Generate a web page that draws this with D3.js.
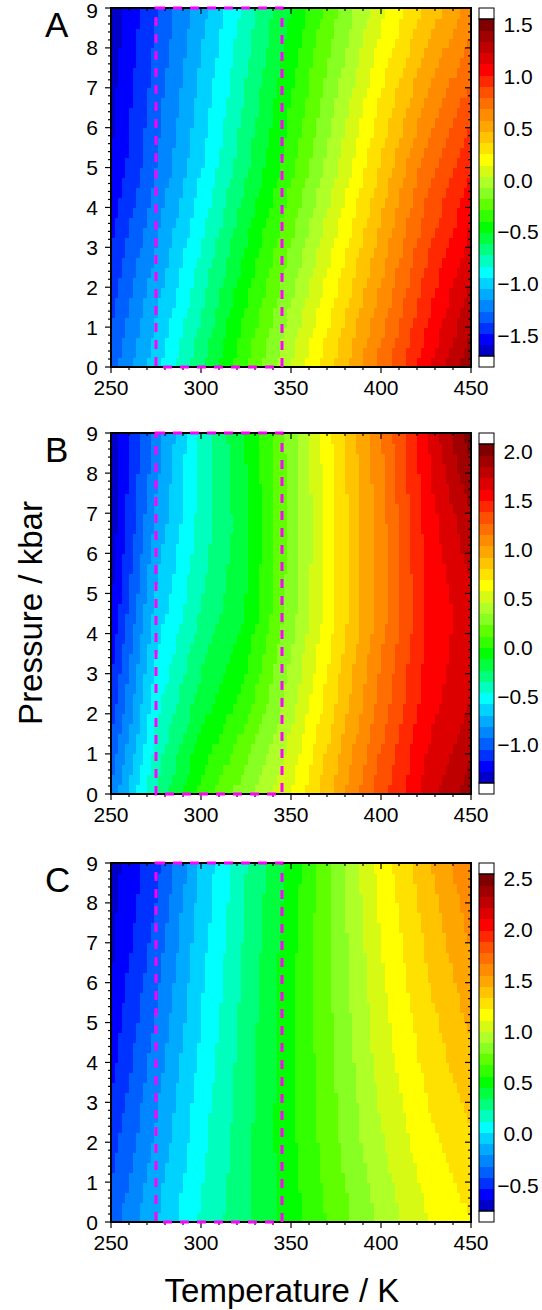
<!DOCTYPE html>
<html><head><meta charset="utf-8">
<script src="https://cdn.jsdelivr.net/npm/d3@7"></script>
<style>
body{margin:0;background:#fff}
svg{display:block}
text{font-family:"Liberation Sans",Arial,Helvetica,sans-serif;fill:#000}
</style>
</head><body>
<svg id="chart" width="542" height="1310"></svg>
<script>
// ---------------- data ----------------
const temperatures = [250, 275, 300, 325, 350, 375, 400, 425, 450];

const pressuresA = [0, 5, 9];
const valuesA = [
  [-1.32, -0.98, -0.64, -0.29, 0.05, 0.39, 0.73, 1.08, 1.42],
  [-1.59, -1.27, -0.95, -0.64, -0.32, 0.02, 0.38, 0.74, 1.00],
  [-1.67, -1.38, -1.09, -0.79, -0.50, -0.20, 0.11, 0.38, 0.63]
];

const pressuresB = [0, 2.25, 4.5, 6.75, 9];
const valuesB = [
  [-0.89, -0.34, 0.04, 0.31, 0.58, 0.96, 1.34, 1.66, 1.91],
  [-1.12, -0.50, -0.18, 0.06, 0.41, 0.81, 1.20, 1.56, 1.73],
  [-1.27, -0.65, -0.34, -0.11, 0.29, 0.70, 1.10, 1.50, 1.69],
  [-1.35, -0.78, -0.42, -0.15, 0.26, 0.70, 1.10, 1.54, 1.82],
  [-1.35, -0.89, -0.42, -0.10, 0.28, 0.73, 1.15, 1.60, 2.04]
];

const pressuresC = [0, 2.25, 4.5, 6.75, 9];
const valuesC = [
  [-0.37, -0.10, 0.14, 0.33, 0.51, 0.72, 0.92, 1.10, 1.22],
  [-0.49, -0.19, 0.09, 0.31, 0.54, 0.77, 1.00, 1.19, 1.33],
  [-0.59, -0.28, 0.03, 0.29, 0.54, 0.80, 1.06, 1.27, 1.44],
  [-0.66, -0.37, -0.02, 0.26, 0.53, 0.82, 1.11, 1.34, 1.55],
  [-0.70, -0.46, -0.08, 0.23, 0.49, 0.83, 1.16, 1.41, 1.66]
];

const colorDomainA = [-1.70, 1.558];
const colorDomainB = [-1.389, 2.079];
const colorDomainC = [-0.754, 2.542];

const colorbarTicksA = [-1.5, -1.0, -0.5, 0.0, 0.5, 1.0, 1.5];
const colorbarTicksB = [-1.0, -0.5, 0.0, 0.5, 1.0, 1.5, 2.0];
const colorbarTicksC = [-0.5, 0.0, 0.5, 1.0, 1.5, 2.0, 2.5];

const bandColors = [
  "#0000c8","#0000ff","#0032ff","#005fff","#0087ff","#00aaff","#00d2ff","#00ffff",
  "#00ffbe","#00ff7d","#00ff3c","#00ff00","#32ff00","#5fff00","#87ff23","#afff28",
  "#d7fa14","#ffff00","#ffe100","#ffc300","#ffa500","#ff8c00","#ff6e00","#ff5000",
  "#ff2800","#ff0000","#dc0000","#be0000","#a00000","#800000"
];

const panelLetters = ["A", "B", "C"];
const xTickValues = [250, 300, 350, 400, 450];
const yTickValues = [0, 1, 2, 3, 4, 5, 6, 7, 8, 9];
const dashedBoxT = [275, 345];
const dashedBoxP = [0, 9];
const xTitle = "Temperature / K";
const yTitle = "Pressure / kbar";

// ---------------- layout ----------------
const svg = d3.select("#chart");
const plotLeft = 111, plotRight = 471;
const panelTops = [8, 433, 863];
const panelBottoms = [367, 794, 1222];
const cbX = 479, cbW = 15, cbCap = 11;

const panels = [
  {p: pressuresA, v: valuesA, dom: colorDomainA, ticks: colorbarTicksA},
  {p: pressuresB, v: valuesB, dom: colorDomainB, ticks: colorbarTicksB},
  {p: pressuresC, v: valuesC, dom: colorDomainC, ticks: colorbarTicksC}
];

const fmt = d3.format(".1f");
const dT = 2, dP = 0.25;
const cellT = d3.range(250, 450, dT);
const cellP = d3.range(0, 9 - 1e-9, dP);

panels.forEach((pan, i) => {
  const top = panelTops[i], bottom = panelBottoms[i];
  const x = d3.scaleLinear().domain([250, 450]).range([plotLeft, plotRight]);
  const y = d3.scaleLinear().domain([0, 9]).range([bottom, top]);
  const color = d3.scaleQuantize().domain(pan.dom).range(bandColors);
  const g = svg.append("g");

  // field cells
  const rowScales = pan.v.map(row => d3.scaleLinear().domain(temperatures).range(row));
  const cells = [];
  cellT.forEach(t => {
    const tc = t + dT / 2;
    const colScale = d3.scaleLinear().domain(pan.p).range(rowScales.map(s => s(tc)));
    cellP.forEach(p => {
      cells.push({t, p, val: colScale(p + dP / 2)});
    });
  });
  g.append("g").attr("shape-rendering", "crispEdges")
    .selectAll("rect").data(cells).join("rect")
    .attr("x", d => x(d.t))
    .attr("y", d => y(d.p + dP))
    .attr("width", d => x(d.t + dT) - x(d.t) + 0.6)
    .attr("height", d => y(d.p) - y(d.p + dP) + 0.6)
    .attr("fill", d => color(d.val));

  // frame
  g.append("rect").attr("x", plotLeft).attr("y", top)
    .attr("width", plotRight - plotLeft).attr("height", bottom - top)
    .attr("fill", "none").attr("stroke", "#000").attr("stroke-width", 2);

  // ticks
  const tk = g.append("g").attr("stroke", "#000").attr("stroke-width", 1.2);
  const minorT = d3.range(250, 451, 10), minorP = d3.range(0, 9.001, 0.2);
  minorT.forEach(t => {
    const major = t % 50 === 0;
    const len = major ? 6 : 3;
    tk.append("line").attr("x1", x(t)).attr("x2", x(t)).attr("y1", bottom).attr("y2", bottom + len);
    tk.append("line").attr("x1", x(t)).attr("x2", x(t)).attr("y1", top).attr("y2", top + len);
  });
  minorP.forEach(p => {
    const major = Math.abs(p - Math.round(p)) < 1e-6;
    const len = major ? 6 : 3;
    tk.append("line").attr("y1", y(p)).attr("y2", y(p)).attr("x1", plotLeft).attr("x2", plotLeft - len);
    tk.append("line").attr("y1", y(p)).attr("y2", y(p)).attr("x1", plotRight).attr("x2", plotRight - len);
  });

  // dashed box
  g.append("rect")
    .attr("x", x(dashedBoxT[0])).attr("y", y(dashedBoxP[1]))
    .attr("width", x(dashedBoxT[1]) - x(dashedBoxT[0]))
    .attr("height", y(dashedBoxP[0]) - y(dashedBoxP[1]))
    .attr("fill", "none").attr("stroke", "#ff00ff").attr("stroke-width", 3)
    .attr("stroke-dasharray", "9,8");

  // tick labels
  g.selectAll("text.xl").data(xTickValues).join("text")
    .attr("x", d => x(d)).attr("y", bottom + 28)
    .attr("text-anchor", "middle").attr("font-size", 21).text(d => d);
  g.selectAll("text.yl").data(yTickValues).join("text")
    .attr("x", plotLeft - 13).attr("y", d => Math.max(y(d) + 7.5, 18))
    .attr("text-anchor", "end").attr("font-size", 21).text(d => d);

  // panel letter
  g.append("text").attr("x", 45).attr("y", top + 29)
    .attr("font-size", 35).text(panelLetters[i]);

  // colorbar
  const cTop = top + cbCap, cBot = bottom - cbCap;
  const cy = d3.scaleLinear().domain(pan.dom).range([cBot, cTop]);
  const step = (pan.dom[1] - pan.dom[0]) / bandColors.length;
  const cb = g.append("g");
  cb.append("g").attr("shape-rendering", "crispEdges")
    .selectAll("rect").data(bandColors).join("rect")
    .attr("x", cbX).attr("width", cbW)
    .attr("y", (c, k) => cy(pan.dom[0] + (k + 1) * step))
    .attr("height", (c, k) => cy(pan.dom[0] + k * step) - cy(pan.dom[0] + (k + 1) * step) + 0.5)
    .attr("fill", c => c);
  cb.append("rect").attr("x", cbX).attr("y", top).attr("width", cbW).attr("height", cbCap)
    .attr("fill", "#fff").attr("stroke", "#000").attr("stroke-width", 1);
  cb.append("rect").attr("x", cbX).attr("y", cBot).attr("width", cbW).attr("height", cbCap)
    .attr("fill", "#fff").attr("stroke", "#000").attr("stroke-width", 1);
  cb.append("rect").attr("x", cbX).attr("y", cTop).attr("width", cbW).attr("height", cBot - cTop)
    .attr("fill", "none").attr("stroke", "#000").attr("stroke-width", 1);
  cb.selectAll("text").data(pan.ticks).join("text")
    .attr("x", 518).attr("y", d => cy(d) + 7.5)
    .attr("text-anchor", "middle").attr("font-size", 21).text(d => fmt(d));
});

// axis titles
svg.append("text").attr("x", 282).attr("y", 1302).attr("text-anchor", "middle")
  .attr("font-size", 33).text(xTitle);
svg.append("text").attr("transform", "translate(42,613) rotate(-90)")
  .attr("text-anchor", "middle").attr("font-size", 33).text(yTitle);
</script>
</body></html>
